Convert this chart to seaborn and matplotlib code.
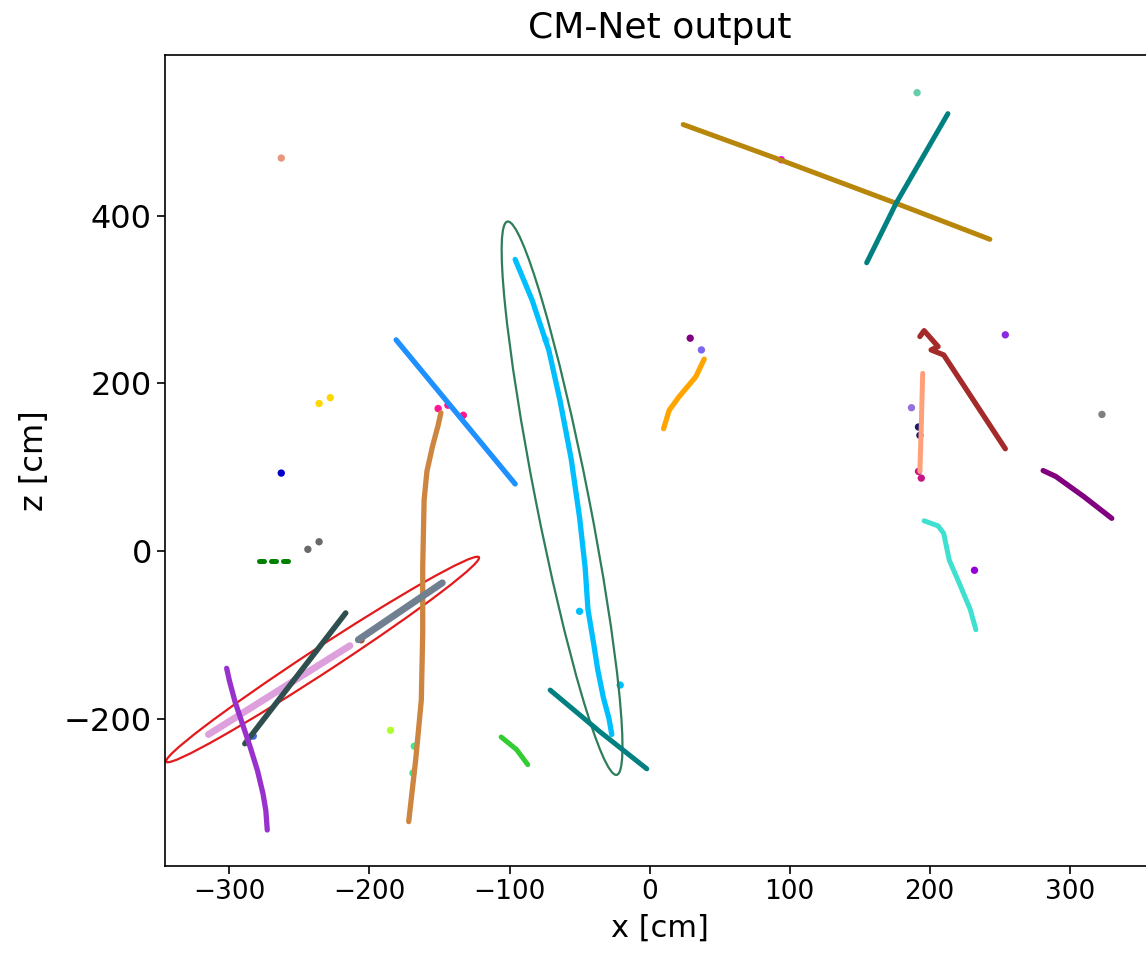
import matplotlib
matplotlib.use("Agg")
import matplotlib.pyplot as plt
from matplotlib.patches import Ellipse
import pandas as pd
import seaborn as sns

# ---- reconstructed tracks (x, z in cm) ----
gold_x = [24, 93, 176, 243]
gold_z = [509, 467, 415, 372]

teal_top_x = [155, 176, 195, 213]
teal_top_z = [344, 415, 470, 522]

cyan_x = [-96, -84, -72, -64, -56, -50, -46, -44, -40, -37, -33, -29, -27]
cyan_z = [348, 300, 240, 180, 110, 40, -20, -70, -110, -142, -175, -200, -219]

dodger_x = [-181, -139, -96]
dodger_z = [252, 167, 80]

peru_x = [-172, -167, -163, -162, -162, -161, -159, -155, -151, -149]
peru_z = [-323, -249, -178, -98, -19, 61, 95, 125, 150, 165]

plum_x = [-315, -214]
plum_z = [-219, -113]

dslate_x = [-289, -217]
dslate_z = [-230, -74]

slate_x = [-208, -148]
slate_z = [-106, -38]

orchid_x = [-302, -300, -296, -291, -285, -280, -276, -274, -273]
orchid_z = [-140, -155, -180, -205, -235, -262, -290, -310, -333]

lime_x = [-106, -95, -87]
lime_z = [-222, -237, -255]

teal_low_x = [-71, -36, -2]
teal_low_z = [-166, -215, -260]

orange_x = [10, 14, 21, 33, 39]
orange_z = [146, 168, 184, 208, 229]

brown_x = [193, 196, 206, 201, 210, 254]
brown_z = [256, 263, 244, 240, 234, 122]

salmon_x = [195, 194, 193]
salmon_z = [212, 150, 95]

purple_x = [281, 290, 310, 330]
purple_z = [96, 89, 65, 39]

turq_x = [196, 206, 210, 214, 221, 229, 233]
turq_z = [36, 30, 21, -11, -38, -70, -94]

green_x = [-279, -257]
green_z = [-12, -12]

# ---- isolated hits ----
dot_x = [94, 191, -263, -74, -50, -21, -263, -236, -228, -244, -236, -283, -206,
         -185, -168, -169, 29, 37, 192, 194, 187, 192, 193, 254, 323, 232,
         -151, -144, -133]
dot_z = [467, 547, 469, 252, -72, -160, 93, 176, 183, 2, 11, -221, -106,
         -214, -233, -265, 254, 240, 95, 87, 171, 148, 138, 258, 163, -23,
         170, 174, 162]
dot_c = ["#FF00FF", "#66CDAA", "#E9967A", "#87CEFA", "#00BFFF", "#00BFFF",
         "#0000CD", "#FFD700", "#FFD700", "#696969", "#696969", "#4169E1",
         "#A0522D", "#ADFF2F", "#3CEB8C", "#3CEB8C", "#800080", "#7B68EE",
         "#C71585", "#C71585", "#9370DB", "#191970", "#191970", "#8A2BE2",
         "#808080", "#9400D3", "#FF1493", "#FF1493", "#FF1493"]

tracks = [
    ("gold", gold_x, gold_z, "#B8860B", 3.6),
    ("teal_top", teal_top_x, teal_top_z, "#008080", 3.6),
    ("cyan", cyan_x, cyan_z, "#00BFFF", 3.8),
    ("dodger", dodger_x, dodger_z, "#1E90FF", 3.8),
    ("peru", peru_x, peru_z, "#CD853F", 3.8),
    ("plum", plum_x, plum_z, "#DDA0DD", 5.0),
    ("dslate", dslate_x, dslate_z, "#2F4F4F", 4.0),
    ("slate", slate_x, slate_z, "#708090", 5.0),
    ("orchid", orchid_x, orchid_z, "#9932CC", 3.8),
    ("lime", lime_x, lime_z, "#32CD32", 3.6),
    ("teal_low", teal_low_x, teal_low_z, "#008080", 3.6),
    ("orange", orange_x, orange_z, "#FFA500", 3.8),
    ("brown", brown_x, brown_z, "#A52A2A", 3.8),
    ("salmon", salmon_x, salmon_z, "#FFA07A", 3.6),
    ("purple", purple_x, purple_z, "#800080", 3.8),
    ("turq", turq_x, turq_z, "#40E0D0", 3.6),
    ("green", green_x, green_z, "#008000", 3.6),
]

sns.set_theme(style="ticks")
plt.rcParams["font.family"] = ["DejaVu Sans"]
plt.rcParams.update({
    "axes.linewidth": 1.2,
    "axes.edgecolor": "black",
    "text.color": "black",
    "axes.labelcolor": "black",
    "xtick.color": "black",
    "ytick.color": "black",
})

fig = plt.figure(figsize=(11.46, 9.63), dpi=100)
ax = fig.add_axes([0.144, 0.1007, 0.864, 0.8422])

for name, xs, zs, col, lw in tracks:
    df = pd.DataFrame({"x": xs, "z": zs})
    if name == "green":
        # beam-like hits drawn as short dashes
        sns.lineplot(data=df, x="x", y="z", sort=False, estimator=None, ax=ax,
                     color=col, linewidth=lw, linestyle=(0, (1.0, 1.4)),
                     dash_capstyle="round", legend=False)
    else:
        sns.lineplot(data=df, x="x", y="z", sort=False, estimator=None, ax=ax,
                     color=col, linewidth=lw, solid_capstyle="round",
                     solid_joinstyle="round", legend=False)

dots = pd.DataFrame({"x": dot_x, "z": dot_z, "c": dot_c})
sns.scatterplot(data=dots, x="x", y="z", hue="c",
                palette={c: c for c in set(dot_c)}, s=28, linewidth=0,
                legend=False, ax=ax)

# cluster ellipses
ax.add_patch(Ellipse((-233.5, -129.5), width=331, height=24, angle=47.7,
                     fill=False, edgecolor="#E31A1C", linewidth=1.6))
ax.add_patch(Ellipse((-62.5, 63), width=665, height=38, angle=-83.3,
                     fill=False, edgecolor="#2E7D5B", linewidth=1.6))

ax.set_xlim(-346, 361)
ax.set_ylim(-376, 592)
ax.set_xticks([-300, -200, -100, 0, 100, 200, 300])
ax.set_yticks([-200, 0, 200, 400])
ax.tick_params(length=6, width=1.2)
ax.tick_params(axis="x", labelsize=19)
ax.tick_params(axis="y", labelsize=23)
ax.set_xlabel("x [cm]", fontsize=22, labelpad=6)
ax.set_ylabel("z [cm]", fontsize=23, labelpad=10)
ax.set_title("CM-Net output", fontsize=26, pad=12)

fig.savefig("out.png", dpi=100)
